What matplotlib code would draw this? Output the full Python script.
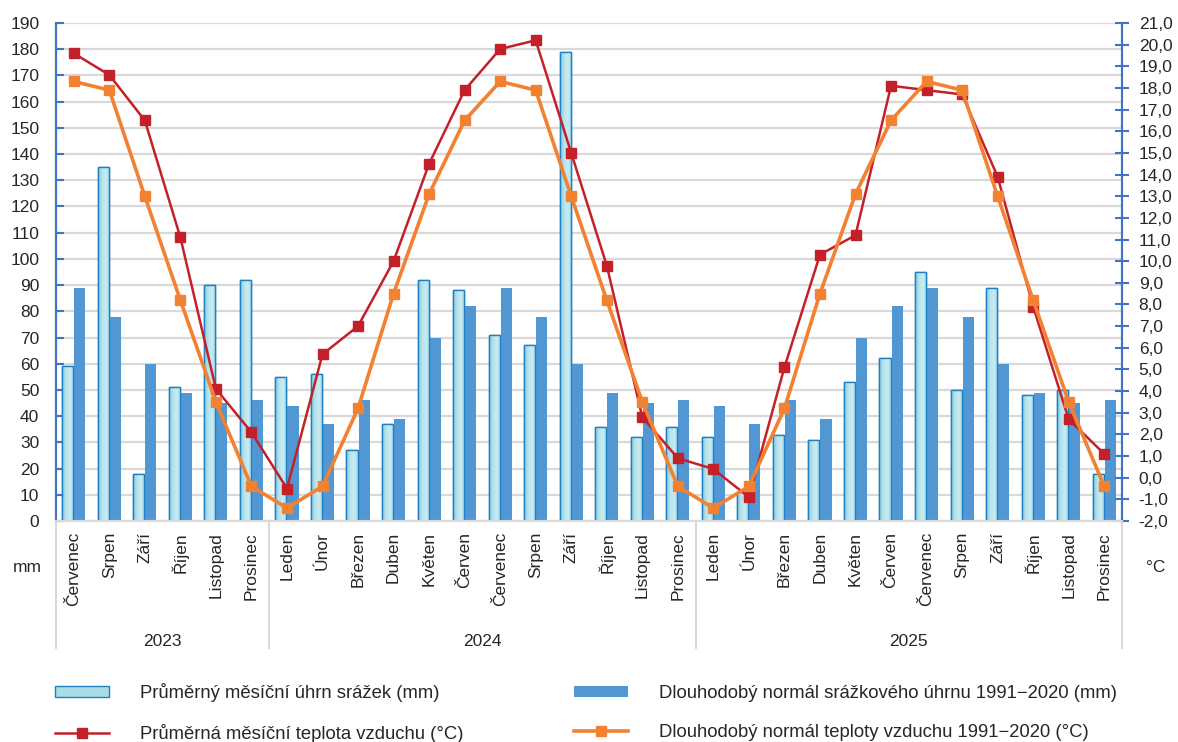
import numpy as np
import matplotlib
matplotlib.use("Agg")
import matplotlib.pyplot as plt
from matplotlib.colors import LinearSegmentedColormap
from matplotlib.patches import Patch
from matplotlib.lines import Line2D

plt.rcParams['font.family'] = ['Liberation Sans', 'DejaVu Sans']
plt.rcParams['font.size'] = 12.5

roky = ["2023", "2024", "2025"]
mesice_2023 = ["Červenec", "Srpen", "Září", "Říjen", "Listopad", "Prosinec"]
mesice_cely_rok = ["Leden", "Únor", "Březen", "Duben", "Květen", "Červen",
                   "Červenec", "Srpen", "Září", "Říjen", "Listopad", "Prosinec"]
mesice = mesice_2023 + mesice_cely_rok + mesice_cely_rok

# srazky v mm
srazky = [59, 135, 18, 51, 90, 92,
          55, 56, 27, 37, 92, 88, 71, 67, 179, 36, 32, 36,
          32, 11, 33, 31, 53, 62, 95, 50, 89, 48, 50, 18]
srazky_normal = [89, 78, 60, 49, 45, 46,
                 44, 37, 46, 39, 70, 82, 89, 78, 60, 49, 45, 46,
                 44, 37, 46, 39, 70, 82, 89, 78, 60, 49, 45, 46]

# teploty ve °C
teplota = [19.6, 18.6, 16.5, 11.1, 4.1, 2.1,
           -0.5, 5.7, 7.0, 10.0, 14.5, 17.9, 19.8, 20.2, 15.0, 9.8, 2.8, 0.9,
           0.4, -0.9, 5.1, 10.3, 11.2, 18.1, 17.9, 17.7, 13.9, 7.9, 2.7, 1.1]
teplota_normal = [18.3, 17.9, 13.0, 8.2, 3.5, -0.4,
                  -1.4, -0.4, 3.2, 8.5, 13.1, 16.5, 18.3, 17.9, 13.0, 8.2, 3.5, -0.4,
                  -1.4, -0.4, 3.2, 8.5, 13.1, 16.5, 18.3, 17.9, 13.0, 8.2, 3.5, -0.4]

popisky_srazky = ["Průměrný měsíční úhrn srážek (mm)",
                  "Dlouhodobý normál srážkového úhrnu 1991−2020 (mm)"]
popisky_teplota = ["Průměrná měsíční teplota vzduchu (°C)",
                   "Dlouhodobý normál teploty vzduchu 1991−2020 (°C)"]

modra_osa = "#4472c4"
svetla = "#a8dce7"
okraj_svetla = "#1f80c4"
tmava = "#5197d3"
cervena = "#c4202a"
oranzova = "#f28232"
mrizka = "#d9d9d9"
text_barva = "#262626"

W, H = 1178, 742
fig = plt.figure(figsize=(W / 100, H / 100), dpi=100)
ax = fig.add_axes([56 / W, 1 - 521 / H, (1122 - 56) / W, 498 / H])
ax2 = ax.twinx()

x = np.arange(len(mesice))
sirka = 0.31

# prechod barvy ve svetlych sloupcich
cmap = LinearSegmentedColormap.from_list("voda", ["#86cbd8", "#b5e2ec", "#c9ecf3", "#a3d8e4"])
grad = np.linspace(0, 1, 64).reshape(1, -1)

sloupce = ax.bar(x - 0.17, srazky, sirka, color=svetla, edgecolor=okraj_svetla,
                 linewidth=1.0, zorder=2)
for s in sloupce:
    x0, y0 = s.get_x(), s.get_y()
    im = ax.imshow(grad, cmap=cmap, aspect='auto', zorder=2.1,
                   extent=[x0, x0 + s.get_width(), y0, y0 + s.get_height()])
    im.set_clip_path(s)
    ax.bar(x0 + s.get_width() / 2, s.get_height(), s.get_width(), color='none',
           edgecolor=okraj_svetla, linewidth=1.0, zorder=2.2)

ax.bar(x + 0.17, srazky_normal, sirka, color=tmava, zorder=2)

ax.set_xlim(-0.5, len(mesice) - 0.5)
ax.set_ylim(0, 190)
ax.set_yticks(np.arange(0, 191, 10))
ax.yaxis.grid(True, color=mrizka, linewidth=1.6, zorder=0)
ax.set_axisbelow(True)

ax2.plot(x, teplota, color=cervena, linewidth=1.8, marker='s', markersize=7, zorder=3)
ax2.plot(x, teplota_normal, color=oranzova, linewidth=2.6, marker='s', markersize=7, zorder=4)
ax2.set_ylim(-2, 21)
ax2.set_yticks(np.arange(-2, 21.1, 1))
ax2.set_yticklabels([f"{v:.1f}".replace(".", ",") for v in np.arange(-2, 21.1, 1)])

for a in (ax, ax2):
    a.spines["top"].set_visible(False)
    a.spines["bottom"].set_color(mrizka)
    a.spines["bottom"].set_linewidth(1.5)
    a.spines["left"].set_color(modra_osa)
    a.spines["right"].set_color(modra_osa)
    a.spines["left"].set_linewidth(1.5)
    a.spines["right"].set_linewidth(1.5)

ax.tick_params(axis='y', direction='in', length=6, width=1.5, color=modra_osa,
               labelcolor=text_barva, pad=12)
ax2.tick_params(axis='y', direction='inout', length=10, width=1.5, color=modra_osa,
                labelcolor=text_barva, pad=7)

ax.set_xticks(x)
ax.set_xticklabels(mesice, rotation=90, va='top', ha='center', color=text_barva)
ax.tick_params(axis='x', length=0, pad=8)
ax2.tick_params(axis='x', length=0)

# skupiny roku pod osou
trans = ax.get_xaxis_transform()
hranice = [-0.5, 5.5, 17.5, len(mesice) - 0.5]
for h in hranice:
    ax.plot([h, h], [0, -0.256], color=mrizka, linewidth=1.5, transform=trans, clip_on=False)
for i, rok in enumerate(roky):
    ax.text((hranice[i] + hranice[i + 1]) / 2, -0.242, rok, transform=trans,
            ha='center', va='center', color=text_barva)

fig.text(27 / W, 1 - 568 / H, "mm", ha='center', va='center', color=text_barva)
fig.text(1156 / W, 1 - 567 / H, "°C", ha='center', va='center', color=text_barva)

# legenda: prvni sloupec srazky + teplota, druhy sloupec normaly
uchyty = [Patch(facecolor=svetla, edgecolor=okraj_svetla, linewidth=1.0),
          Line2D([], [], color=cervena, linewidth=1.8, marker='s', markersize=7),
          Patch(facecolor=tmava, edgecolor='none'),
          Line2D([], [], color=oranzova, linewidth=2.6, marker='s', markersize=7)]
popisky = [popisky_srazky[0], popisky_teplota[0], popisky_srazky[1], popisky_teplota[1]]
fig.legend(uchyty, popisky, loc='upper left', bbox_to_anchor=(55 / W, 1 - 683 / H),
           ncol=2, frameon=False, fontsize=13.3, handlelength=2.9, handleheight=0.55,
           handletextpad=1.7, columnspacing=6.0, labelspacing=1.2,
           borderpad=0, borderaxespad=0, labelcolor=text_barva)

fig.savefig("out.png", dpi=100)
